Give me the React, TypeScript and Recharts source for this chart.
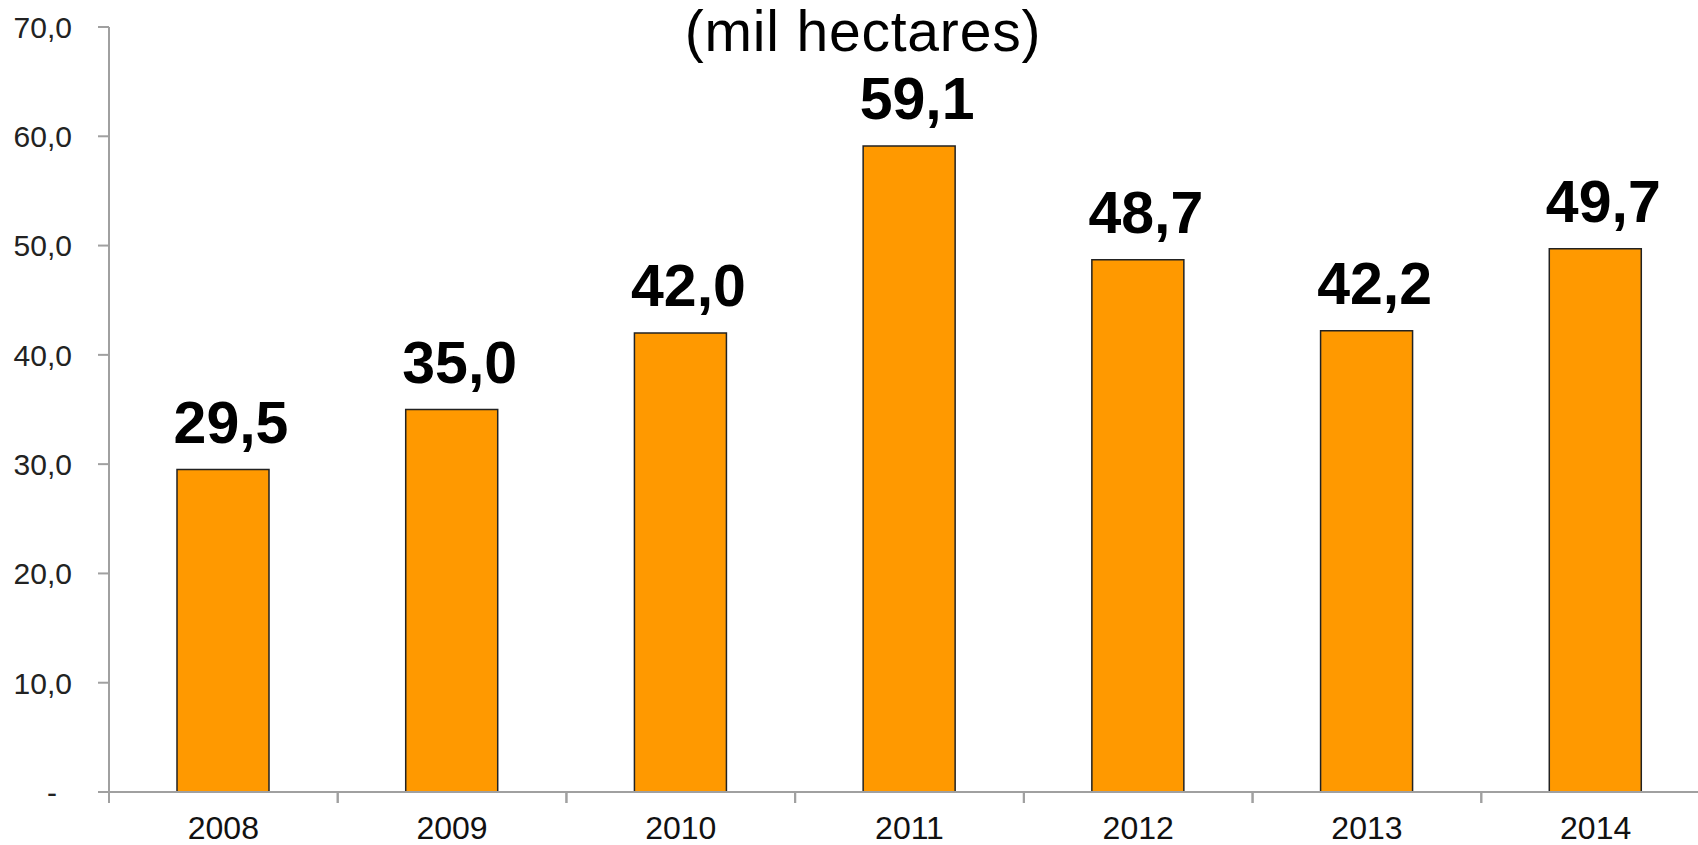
import { BarChart, Bar, XAxis, YAxis, LabelList } from "recharts";

const years = ["2008", "2009", "2010", "2011", "2012", "2013", "2014"];
const area = [29.5, 35.0, 42.0, 59.1, 48.7, 42.2, 49.7];
const yTicks = [0, 10, 20, 30, 40, 50, 60, 70];

const data = years.map((year, i) => ({ year, value: area[i] }));

const FONT = "'Liberation Sans', Arial, sans-serif";
const W = 1712;
const Y_W = 109;
const MARGIN = { top: 27, right: 2, bottom: 0, left: 0 };
const BAND = (W - Y_W - MARGIN.left - MARGIN.right) / years.length;
const X_TICK = 11;
const X_GAP = 13;

function fmt(v: number) {
  return v.toFixed(1).replace(".", ",");
}

const YTick = ({ x, y, payload }: any) => {
  const v = payload.value as number;
  return (
    <text x={v === 0 ? x - 15 : x} y={y} dy="0.36em" textAnchor="end" fontSize={30}
      fontFamily={FONT} fill="#222">{v === 0 ? "-" : fmt(v)}</text>
  );
};

// label centred on the category, plus the boundary tick marks either side
const XTick = ({ x, y, payload }: any) => {
  const axisY = y - X_GAP - X_TICK;
  const left = x - BAND / 2;
  return (
    <g>
      <line x1={left} x2={left} y1={axisY} y2={axisY + X_TICK} stroke="#a0a0a0" strokeWidth={2} />
      <line x1={left + BAND} x2={left + BAND} y1={axisY} y2={axisY + X_TICK} stroke="#a0a0a0" strokeWidth={2} />
      <text x={x} y={y} dy="0.71em" textAnchor="middle" fontSize={32} fontFamily={FONT} fill="#111">
        {payload.value}
      </text>
    </g>
  );
};

const BarLabel = ({ x, y, width, value }: any) => (
  <text x={x + width / 2 + 8} y={y - 27} textAnchor="middle" fontSize={59} fontWeight={700}
    fontFamily={FONT} fill="#000">{fmt(Number(value))}</text>
);

export default function App() {
  return (
    <div style={{ position: "absolute", left: 0, top: 0, width: 1698, height: 845, overflow: "hidden", background: "#fff" }}>
      <BarChart width={W} height={845} data={data} margin={MARGIN} barSize={92}>
        <XAxis
          dataKey="year"
          height={53}
          axisLine={{ stroke: "#a0a0a0", strokeWidth: 2 }}
          tickLine={false}
          tickSize={X_TICK}
          tickMargin={X_GAP}
          interval={0}
          tick={<XTick />}
        />
        <YAxis
          width={Y_W}
          domain={[0, 70]}
          ticks={yTicks}
          interval={0}
          axisLine={{ stroke: "#a0a0a0", strokeWidth: 2 }}
          tickLine={{ stroke: "#a0a0a0", strokeWidth: 2 }}
          tickSize={11}
          tickMargin={26}
          tick={<YTick />}
        />
        <Bar dataKey="value" fill="#FF9900" stroke="#222" strokeWidth={1.5} isAnimationActive={false}>
          <LabelList dataKey="value" content={<BarLabel />} />
        </Bar>
      </BarChart>
      <svg width={1698} height={80} style={{ position: "absolute", left: 0, top: 0, pointerEvents: "none" }}>
        <text x={863} y={51} textAnchor="middle" fontSize={57} letterSpacing={0.8} fontFamily={FONT} fill="#000">
          (mil hectares)
        </text>
      </svg>
    </div>
  );
}
